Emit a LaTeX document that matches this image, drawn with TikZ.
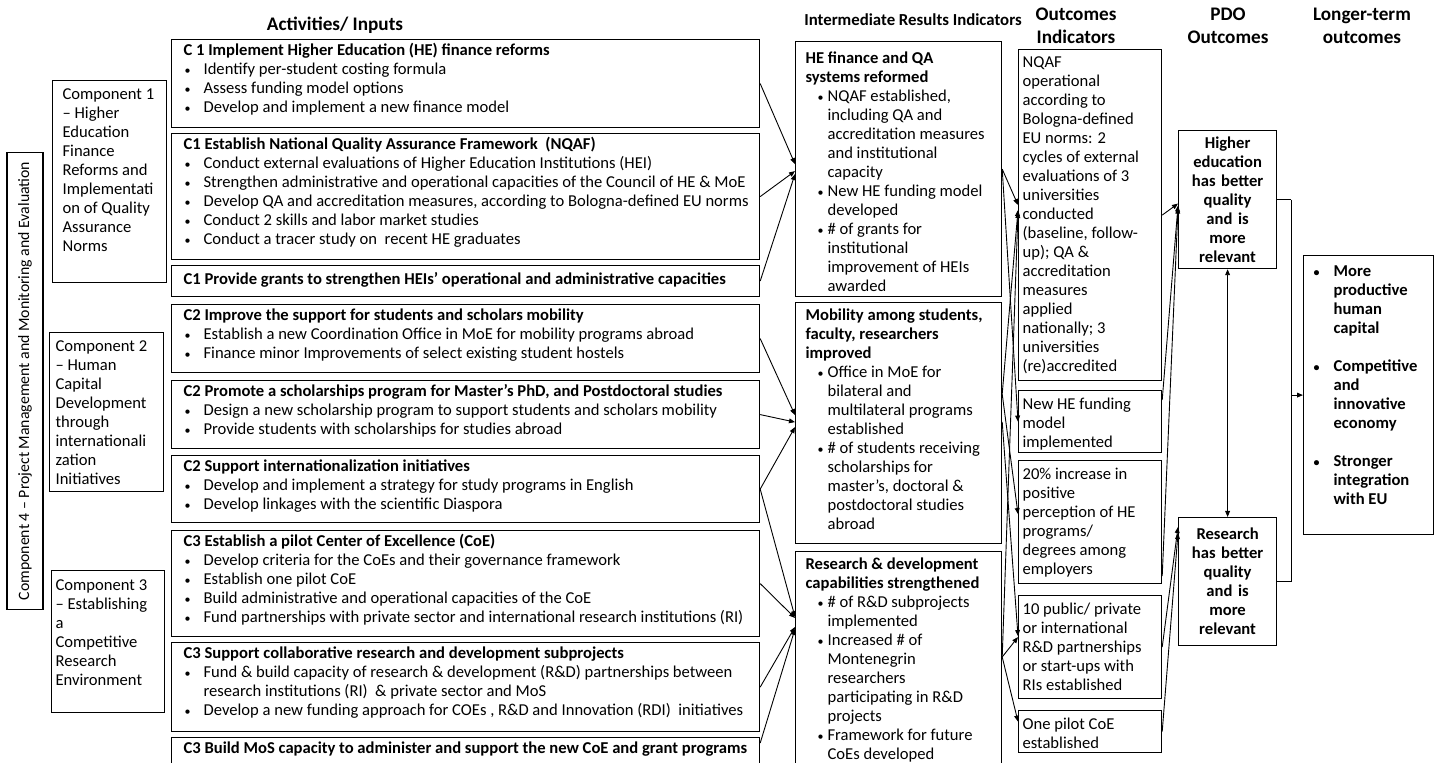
\documentclass[tikz,border=0pt]{standalone}
\usepackage{fontspec}
\setmainfont{Carlito}
\usetikzlibrary{arrows.meta, positioning, calc}

\newcommand{\bodyfont}{\fontsize{8.3}{9.5}\selectfont}
\newcommand{\headfont}{\fontsize{9.6}{11.5}\selectfont\bfseries}
% top aligned box text: width, height, left pad, top gap, text
\newcommand{\cell}[5]{\parbox[c][#2][t]{#1}{\raggedright\let\\\newline\leftskip=#3\relax\vspace*{#4}#5\par}}
\newcommand{\dotb}{{\fontsize{6}{6}\selectfont\textbullet}}
\newcommand{\abul}[1]{\par\hangindent=10pt\hangafter=1\noindent\makebox[10pt][l]{\hspace{0.5pt}\dotb}#1}
\newcommand{\ibul}[1]{\par\hangindent=11pt\hangafter=1\noindent\makebox[11pt][l]{\hspace{6pt}\dotb}#1}
\newcommand{\lbul}[1]{\par\hangindent=10pt\hangafter=1\noindent\makebox[10pt][l]{\dotb}#1}

\begin{document}
\begin{tikzpicture}[x=0.5pt, y=-0.5pt,
  box/.style={draw=black, line width=0.6pt, anchor=north west, inner sep=0pt, font=\bodyfont},
  pdobox/.style={box, align=center, font=\bodyfont\bfseries, text width=49pt},
  head/.style={font=\headfont, align=center},
  arr/.style={-{Triangle[length=3pt,width=2.4pt]}, line width=0.45pt},
  dbl/.style={{Triangle[length=3pt,width=2.4pt]}-{Triangle[length=3pt,width=2.4pt]}, line width=0.45pt},
  line/.style={line width=0.45pt}]
  \path[use as bounding box, fill=white] (0,0) rectangle (1442,763);

  % column heads
  \node[head] (hact) at (335,25) {Activities/ Inputs};
  \node[head, font=\fontsize{8.4}{9.5}\selectfont\bfseries] (hir) at (913,20) {Intermediate Results Indicators};
  \node[head] (hout) at (1076,26) {Outcomes\\Indicators};
  \node[head] (hpdo) at (1228,26) {PDO\\Outcomes};
  \node[head] (hlong) at (1362,26) {Longer-term\\outcomes};

  % components
  \node[box, rotate=90, minimum width=228.5pt, minimum height=18pt, anchor=center,
    font=\fontsize{7.9}{9.5}\selectfont] (comp4) at (25,381)
    {Component 4 – Project Management and Monitoring and Evaluation};
  \node[box] (comp1) at (52,80) {\cell{57pt}{101pt}{5pt}{4pt}{Component 1\\– Higher\\Education\\Finance\\Reforms and\\Implementati\\on of Quality\\Assurance\\Norms}};
  \node[box] (comp2) at (49,332) {\cell{57pt}{79.5pt}{3pt}{4pt}{Component 2\\– Human\\Capital\\Development\\through\\internationali\\zation\\Initiatives}};
  \node[box] (comp3) at (51,570) {\cell{56.5pt}{71pt}{2pt}{4.5pt}{Component 3\\– Establishing\\a\\Competitive\\Research\\Environment}};

  % activities
  \node[box] (act1) at (171,39) {\cell{294pt}{44pt}{6pt}{2pt}{\textbf{C 1 Implement Higher Education (HE) finance reforms}
    \abul{Identify per-student costing formula}
    \abul{Assess funding model options}
    \abul{Develop and implement a new finance model}}};
  \node[box] (act2) at (171,133) {\cell{294pt}{63pt}{6pt}{2pt}{\textbf{C1 Establish National Quality Assurance Framework\ \ (NQAF)}
    \abul{Conduct external evaluations of Higher Education Institutions (HEI)}
    \abul{Strengthen administrative and operational capacities of the Council of HE \& MoE}
    \abul{Develop QA and accreditation measures, according to Bologna-defined EU norms}
    \abul{Conduct 2 skills and labor market studies}
    \abul{Conduct a tracer study on\ \ recent HE graduates}}};
  \node[box] (act3) at (171,265) {\cell{294pt}{15.5pt}{6pt}{3.5pt}{\textbf{C1 Provide grants to strengthen HEIs’ operational and administrative capacities}}};
  \node[box] (act4) at (171,304) {\cell{294pt}{34pt}{6pt}{2pt}{\textbf{C2 Improve the support for students and scholars mobility}
    \abul{Establish a new Coordination Office in MoE for mobility programs abroad}
    \abul{Finance minor Improvements of select existing student hostels}}};
  \node[box] (act5) at (171,380) {\cell{294pt}{34pt}{6pt}{2pt}{\textbf{C2 Promote a scholarships program for Master’s PhD, and Postdoctoral studies}
    \abul{Design a new scholarship program to support students and scholars mobility}
    \abul{Provide students with scholarships for studies abroad}}};
  \node[box] (act6) at (171,455) {\cell{294pt}{33.5pt}{6pt}{2pt}{\textbf{C2 Support internationalization initiatives}
    \abul{Develop and implement a strategy for study programs in English}
    \abul{Develop linkages with the scientific Diaspora}}};
  \node[box] (act7) at (171,530) {\cell{294pt}{53pt}{6pt}{2pt}{\textbf{C3 Establish a pilot Center of Excellence (CoE)}
    \abul{Develop criteria for the CoEs and their governance framework}
    \abul{Establish one pilot CoE}
    \abul{Build administrative and operational capacities of the CoE}
    \abul{Fund partnerships with private sector and international research institutions (RI)}}};
  \node[box] (act8) at (171,642) {\cell{294pt}{44.5pt}{6pt}{2pt}{\textbf{C3 Support collaborative research and development subprojects}
    \abul{Fund \& build capacity of research \& development (R\&D) partnerships between\\research institutions (RI)\ \ \& private sector and MoS}
    \abul{Develop a new funding approach for COEs , R\&D and Innovation (RDI)\ \ initiatives}}};
  \node[box] (act9) at (171,737) {\cell{294pt}{40pt}{6pt}{2pt}{\textbf{C3 Build MoS capacity to administer and support the new CoE and grant programs}}};

  % intermediate results
  \node[box] (irfin) at (795,41) {\cell{103pt}{127.5pt}{5pt}{5pt}{\textbf{HE finance and QA\\systems reformed}
    \ibul{NQAF established,\\including QA and\\accreditation measures\\and institutional\\capacity}
    \ibul{New HE funding model\\developed}
    \ibul{\# of grants for\\institutional\\improvement of HEIs\\awarded}}};
  \node[box] (irmob) at (795,302) {\cell{103pt}{120.5pt}{5pt}{3pt}{\textbf{Mobility among students,\\faculty, researchers\\improved}
    \ibul{Office in MoE for\\bilateral and\\multilateral programs\\established}
    \ibul{\# of students receiving\\scholarships for\\master’s, doctoral \&\\postdoctoral studies\\abroad}}};
  \node[box] (irrd) at (795,551) {\cell{103pt}{115pt}{5pt}{3pt}{\textbf{Research \& development\\capabilities strengthened}
    \ibul{\# of R\&D subprojects\\implemented}
    \ibul{Increased \# of\\Montenegrin\\researchers\\participating in R\&D\\projects}
    \ibul{Framework for future\\CoEs developed}}};

  % outcome indicators
  \node[box] (outnqaf) at (1018,49) {\cell{71.5pt}{165.5pt}{2pt}{3.5pt}{NQAF\\operational\\according to\\Bologna-defined\\EU norms: 2\\cycles of external\\evaluations of 3\\universities\\conducted\\(baseline, follow-\\up); QA \&\\accreditation\\measures\\applied\\nationally; 3\\universities\\(re)accredited}};
  \node[box] (outfund) at (1018,390) {\cell{71.5pt}{31pt}{2pt}{3.5pt}{New HE funding\\model\\implemented}};
  \node[box] (outperc) at (1018,460) {\cell{71.5pt}{61.5pt}{2pt}{3.5pt}{20\% increase in\\positive\\perception of HE\\programs/\\degrees among\\employers}};
  \node[box] (outpart) at (1018,595) {\cell{71.5pt}{51.5pt}{2pt}{3.5pt}{10 public/ private\\or international\\R\&D partnerships\\or start-ups with\\RIs established}};
  \node[box] (outcoe) at (1018,710) {\cell{71.5pt}{21pt}{2pt}{3.5pt}{One pilot CoE\\established}};

  % PDO outcomes
  \node[pdobox, minimum height=69pt] (pdohe) at (1178,130) {Higher\\education\\has better\\quality\\and is\\more\\relevant};
  \node[pdobox, minimum height=64pt] (pdores) at (1178,517) {Research\\has better\\quality\\and is\\more\\relevant};

  % longer-term outcomes
  \node[box, font=\bodyfont\bfseries] (longterm) at (1303,255) {\cell{65pt}{139.5pt}{5pt}{5pt}{%
    \lbul{More\\productive\\human\\capital}\par\vspace{9.5pt}
    \lbul{Competitive\\and\\innovative\\economy}\par\vspace{9.5pt}
    \lbul{Stronger\\integration\\with EU}}};

  % activities -> intermediate results
  \draw[arr] (act1.east) -- ($(irfin.west)+(0,-5)$);
  \draw[arr] (act2.east) -- ($(irfin.west)+(0,2)$);
  \draw[arr] (act3.east) -- ($(irfin.west)+(0,5)$);
  \draw[arr] (act4.east) -- ($(irmob.west)+(0,-8)$);
  \draw[arr] (act5.east) -- ($(irmob.west)+(0,-1)$);
  \draw[arr] (act6.east) -- ($(irmob.west)+(0,4)$);
  \draw[arr] (act6.east) -- ($(irrd.north west)+(0,66)$);
  \draw[arr] (act7.east) -- ($(irrd.north west)+(0,67)$);
  \draw[arr] (act8.east) -- ($(irrd.north west)+(0,76)$);
  \draw[arr] ($(act9.north east)+(0,6)$) -- ($(irrd.north west)+(0,78)$);

  % intermediate results -> outcome indicators
  \draw[arr] (irfin.east) -- ($(outnqaf.north west)+(0,156)$);
  \draw[arr] (irfin.east) -- (outfund.west);
  \draw[arr] ($(irmob.north east)+(0,92)$) -- ($(outnqaf.north west)+(0,161)$);
  \draw[arr] ($(irmob.north east)+(0,92)$) -- ($(outperc.west)+(0,-8)$);
  \draw[arr] ($(irmob.north east)+(0,120)$) -- ($(outpart.west)+(0,-11)$);
  \draw[arr] ($(irrd.north east)+(0,106)$) -- ($(outnqaf.north west)+(0,163)$);
  \draw[arr] ($(irrd.north east)+(0,106)$) -- ($(outpart.west)+(0,-10)$);
  \draw[arr] ($(irrd.north east)+(0,106)$) -- ($(outcoe.west)+(0,-10)$);

  % outcome indicators -> PDO
  \draw[arr] (outnqaf.east) -- ($(pdohe.west)+(0,4)$);
  \draw[arr] ($(outfund.north east)+(0,10)$) -- ($(pdohe.west)+(0,6)$);
  \draw[arr] ($(outperc.south east)+(0,-8)$) -- ($(pdohe.west)+(0,8)$);
  \draw[arr] (outpart.east) -- ($(pdores.north west)+(0,10)$);
  \draw[arr] (outcoe.east) -- ($(pdores.north west)+(0,16)$);
  \draw[dbl] (pdohe.south) -- (pdores.north);

  % PDO -> longer-term
  \coordinate (elbow) at ($(pdohe.east)+(14,0)$);
  \draw[line] (pdohe.east) -- (elbow);
  \draw[arr] (elbow) |- (longterm.west);
  \draw[line] (pdores.east) -| (elbow);
\end{tikzpicture}
\end{document}
